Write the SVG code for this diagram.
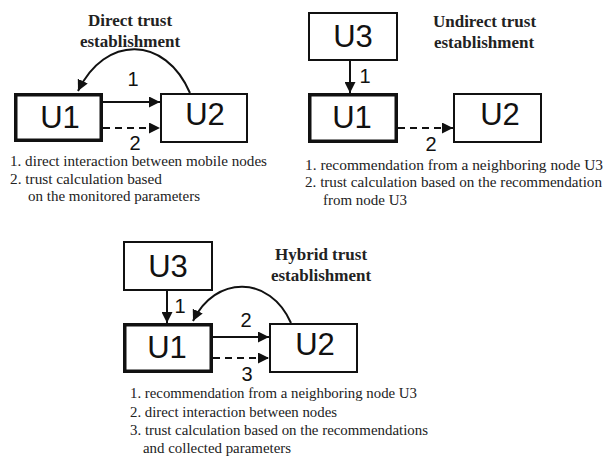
<svg xmlns="http://www.w3.org/2000/svg" width="609" height="459" viewBox="0 0 609 459">
<defs>
<style>
.box{fill:#fff;stroke:#111;stroke-width:2}
.thick{stroke-width:3.5}
.nl{font-family:"Liberation Sans",Arial,sans-serif;font-size:31px;fill:#111;text-anchor:middle}
.num{font-family:"Liberation Sans",Arial,sans-serif;font-size:20px;fill:#111;text-anchor:middle}
.title{font-family:"Liberation Serif","Times New Roman",serif;font-size:17px;font-weight:bold;fill:#222;text-anchor:middle}
.body{font-family:"Liberation Serif","Times New Roman",serif;font-size:15px;fill:#222}
.ln{fill:none;stroke:#111;stroke-width:2}
.dash{stroke-dasharray:7,5}
</style>
<marker id="ah" markerUnits="userSpaceOnUse" markerWidth="11" markerHeight="11" refX="10" refY="5" orient="auto" viewBox="0 0 10 10">
<path d="M0,0 L10,5 L0,10 z" fill="#111"/>
</marker>
</defs>

<g id="connectors">
<line class="ln" x1="103" y1="102" x2="160" y2="102" marker-end="url(#ah)"/>
<line class="ln dash" x1="103" y1="128" x2="160" y2="128" marker-end="url(#ah)"/>
<path class="ln" d="M190,93 C165,35 105,35 78,91" marker-end="url(#ah)"/>
<line class="ln" x1="350" y1="61" x2="350" y2="93" marker-end="url(#ah)"/>
<line class="ln dash" x1="398" y1="128" x2="453" y2="128" marker-end="url(#ah)"/>
<line class="ln" x1="167" y1="291" x2="167" y2="323" marker-end="url(#ah)"/>
<line class="ln" x1="213" y1="337" x2="269" y2="337" marker-end="url(#ah)"/>
<line class="ln dash" x1="213" y1="358" x2="269" y2="358" marker-end="url(#ah)"/>
<path class="ln" d="M291,323 C270,275 215,275 193,321" marker-end="url(#ah)"/>
<text class="num" x="133" y="86">1</text>
<text class="num" x="135" y="150">2</text>
<text class="num" x="365" y="83">1</text>
<text class="num" x="431" y="151">2</text>
<text class="num" x="180" y="313">1</text>
<text class="num" x="246" y="327">2</text>
<text class="num" x="247" y="381">3</text>
</g>

<g id="p1-title">
<text class="title" x="130" y="26">Direct trust</text>
<text class="title" x="130" y="47">establishment</text>
</g>
<g id="p1-u1"><rect class="box thick" x="15.75" y="94.75" width="85.5" height="45.5"/><text class="nl" x="60" y="128">U1</text></g>
<g id="p1-u2"><rect class="box" x="161" y="94" width="86" height="48"/><text class="nl" x="205" y="125">U2</text></g>
<g id="p1-legend">
<text class="body" x="10" y="166" textLength="257" lengthAdjust="spacingAndGlyphs">1. direct interaction between mobile nodes</text>
<text class="body" x="10" y="184" textLength="152" lengthAdjust="spacingAndGlyphs">2. trust calculation based</text>
<text class="body" x="28" y="201" textLength="172" lengthAdjust="spacingAndGlyphs">on the monitored parameters</text>
</g>

<g id="p2-title">
<text class="title" x="484.5" y="27">Undirect trust</text>
<text class="title" x="484" y="48">establishment</text>
</g>
<g id="p2-u3"><rect class="box" x="309" y="13" width="88" height="47"/><text class="nl" x="353" y="47">U3</text></g>
<g id="p2-u1"><rect class="box thick" x="309.75" y="94.75" width="86.5" height="46.5"/><text class="nl" x="352" y="128">U1</text></g>
<g id="p2-u2"><rect class="box" x="454" y="94" width="87" height="48"/><text class="nl" x="500" y="125">U2</text></g>
<g id="p2-legend">
<text class="body" x="305" y="170" textLength="298" lengthAdjust="spacingAndGlyphs">1. recommendation from a neighboring node U3</text>
<text class="body" x="305" y="187" textLength="297" lengthAdjust="spacingAndGlyphs">2. trust calculation based on the recommendation</text>
<text class="body" x="323" y="205" textLength="84" lengthAdjust="spacingAndGlyphs">from node U3</text>
</g>

<g id="p3-title">
<text class="title" x="321" y="260">Hybrid trust</text>
<text class="title" x="321" y="281">establishment</text>
</g>
<g id="p3-u3"><rect class="box" x="124" y="242" width="88" height="48"/><text class="nl" x="168" y="277">U3</text></g>
<g id="p3-u1"><rect class="box thick" x="124.75" y="324.75" width="86.5" height="46.5"/><text class="nl" x="167" y="358">U1</text></g>
<g id="p3-u2"><rect class="box" x="270" y="324" width="87" height="48"/><text class="nl" x="315" y="355">U2</text></g>
<g id="p3-legend">
<text class="body" x="130" y="398" textLength="287" lengthAdjust="spacingAndGlyphs">1. recommendation from a neighboring node U3</text>
<text class="body" x="130" y="417" textLength="207" lengthAdjust="spacingAndGlyphs">2. direct interaction between nodes</text>
<text class="body" x="130" y="435" textLength="298" lengthAdjust="spacingAndGlyphs">3. trust calculation based on the recommendations</text>
<text class="body" x="143" y="453" textLength="148" lengthAdjust="spacingAndGlyphs">and collected parameters</text>
</g>
</svg>
